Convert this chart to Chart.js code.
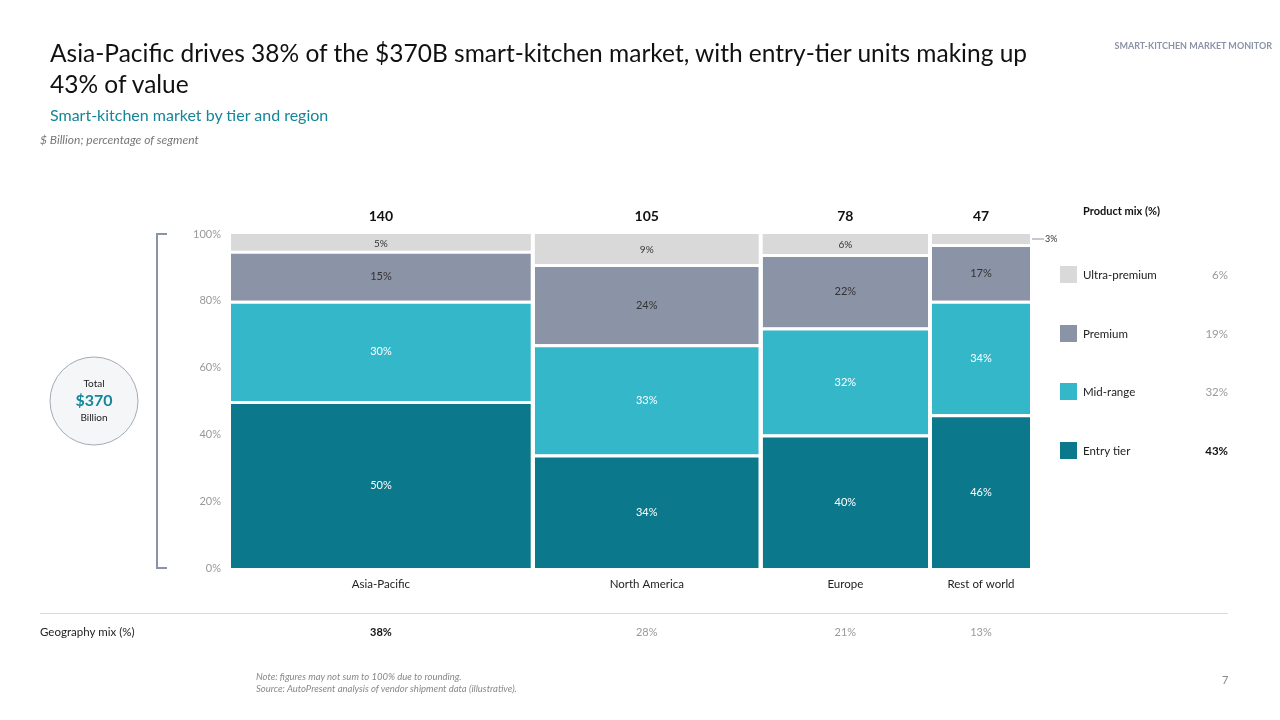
<!DOCTYPE html>
<html>
<head>
<meta charset="utf-8">
<script src="https://cdn.jsdelivr.net/npm/chart.js"></script>
<style>
  html, body { margin: 0; padding: 0; background: #fff; }
  body { width: 1280px; height: 720px; position: relative; overflow: hidden; font-family: 'Lato', 'Noto Sans', sans-serif; }
  #wrap { position: absolute; left: 0; top: 0; width: 1280px; height: 720px; }
  .t { position: absolute; white-space: nowrap; }
  #title { left: 50px; top: 37px; font-size: 24.5px; line-height: 31px; color: #111; }
  #sub { left: 50px; top: 105px; font-size: 16px; color: #14869a; }
  #unit { left: 40px; top: 132px; font-size: 12px; font-style: italic; color: #777; }
  #brand { right: 8px; top: 40px; font-size: 9px; font-weight: bold; color: #8b93a6; }
  #note { left: 256px; top: 671px; font-size: 9.5px; font-style: italic; color: #888; line-height: 12px; }
  #page { left: 1222px; top: 673px; font-size: 11px; color: #888; }
</style>
</head>
<body>
<div id="wrap"><canvas id="c" width="1280" height="720"></canvas></div>
<div class="t" id="title">Asia-Pacific drives 38% of the $370B smart-kitchen market, with entry-tier units making up<br>43% of value</div>
<div class="t" id="sub">Smart-kitchen market by tier and region</div>
<div class="t" id="unit">$ Billion; percentage of segment</div>
<div class="t" id="brand">SMART-KITCHEN MARKET MONITOR</div>
<div class="t" id="note">Note: figures may not sum to 100% due to rounding.<br>Source: AutoPresent analysis of vendor shipment data (illustrative).</div>
<div class="t" id="page">7</div>
<script>
// ---- data ----
const regions = ['Asia-Pacific', 'North America', 'Europe', 'Rest of world'];
const regionTotals = [140, 105, 78, 47];           // $B, drives bar widths
const geoMix = [38, 28, 21, 13];                    // % of total
const entryTier = [50, 34, 40, 46];
const midRange = [30, 33, 32, 34];
const premium = [15, 24, 22, 17];
const ultraPremium = [5, 9, 6, 3];
const tiers = ['Entry tier', 'Mid-range', 'Premium', 'Ultra-premium'];
const productMix = [43, 32, 19, 6];                 // same order as tiers
const totalMarket = 370;

const colors = ['#0b798b', '#35b7ca', '#8b93a6', '#d9d9d9'];
const labelColors = ['#fff', '#fff', '#333', '#333'];
const FONT = "'Lato', 'Noto Sans', sans-serif";

// bar spans along the $B axis
const starts = [], ends = [];
regionTotals.reduce((acc, v) => { starts.push(acc); ends.push(acc + v); return acc + v; }, 0);
const centers = starts.map((s, i) => (s + ends[i]) / 2);

const series = [entryTier, midRange, premium, ultraPremium];

// Marimekko: stretch each bar to its $B span on the linear x scale
const mekkoWidth = {
  id: 'mekkoWidth',
  afterDatasetsUpdate(chart) {
    const xs = chart.scales.x;
    chart.data.datasets.forEach((ds, d) => {
      chart.getDatasetMeta(d).data.forEach((el, i) => {
        const x0 = xs.getPixelForValue(starts[i]);
        const x1 = xs.getPixelForValue(ends[i]);
        el.x = (x0 + x1) / 2;
        el.width = x1 - x0 - 4;
      });
    });
  }
};

// annotations tied to the chart scales
const annot = {
  id: 'annot',
  afterDatasetsDraw(chart) {
    const { ctx, chartArea: a, scales: { x, y } } = chart;
    ctx.save();
    ctx.textBaseline = 'middle';

    // segment labels
    chart.data.datasets.forEach((ds, d) => {
      chart.getDatasetMeta(d).data.forEach((el, i) => {
        const v = series[d][i];
        ctx.font = (v >= 10 ? '11px ' : '10px ') + FONT;
        if (d === 3 && v < 4) {
          // tiny slice: label outside with leader
          const yy = (el.y + el.base) / 2;
          ctx.strokeStyle = '#8b93a6'; ctx.lineWidth = 1;
          ctx.beginPath(); ctx.moveTo(el.x + el.width / 2 + 2, yy); ctx.lineTo(el.x + el.width / 2 + 14, yy); ctx.stroke();
          ctx.fillStyle = '#333'; ctx.textAlign = 'left';
          ctx.font = '9px ' + FONT;
          ctx.fillText(v + '%', el.x + el.width / 2 + 15, yy);
          return;
        }
        ctx.fillStyle = labelColors[d]; ctx.textAlign = 'center';
        ctx.fillText(v + '%', el.x, (el.y + el.base) / 2 + 1);
      });
    });

    // totals above, region names below, geo mix row
    ctx.textAlign = 'center';
    centers.forEach((c, i) => {
      const px = x.getPixelForValue(c);
      ctx.fillStyle = '#111'; ctx.font = 'bold 14px ' + FONT;
      ctx.fillText(regionTotals[i], px, a.top - 18);
      ctx.font = '11.5px ' + FONT; ctx.fillStyle = '#222';
      ctx.fillText(regions[i], px, a.bottom + 16);
      ctx.font = (i === 0 ? 'bold ' : '') + '11px ' + FONT;
      ctx.fillStyle = i === 0 ? '#111' : '#999';
      ctx.fillText(geoMix[i] + '%', px, 632);
    });

    // separator + row label
    ctx.strokeStyle = '#dcdcdc'; ctx.lineWidth = 1;
    ctx.beginPath(); ctx.moveTo(40, 613.5); ctx.lineTo(1228, 613.5); ctx.stroke();
    ctx.textAlign = 'left'; ctx.fillStyle = '#222'; ctx.font = '11.5px ' + FONT;
    ctx.fillText('Geography mix (%)', 40, 632);

    // bracket
    const yTop = y.getPixelForValue(100), yBot = y.getPixelForValue(0);
    ctx.strokeStyle = '#8b93a6'; ctx.lineWidth = 2;
    ctx.beginPath();
    ctx.moveTo(167, yTop); ctx.lineTo(157, yTop); ctx.lineTo(157, yBot); ctx.lineTo(167, yBot);
    ctx.stroke();

    // total circle
    ctx.beginPath(); ctx.arc(94, 401, 44, 0, Math.PI * 2);
    ctx.fillStyle = '#f4f6f8'; ctx.fill();
    ctx.strokeStyle = '#a3a9b6'; ctx.lineWidth = 1; ctx.stroke();
    ctx.textAlign = 'center';
    ctx.fillStyle = '#222'; ctx.font = '10px ' + FONT;
    ctx.fillText('Total', 94, 384);
    ctx.fillStyle = '#14869a'; ctx.font = 'bold 16px ' + FONT;
    ctx.fillText('$' + totalMarket, 94, 401);
    ctx.fillStyle = '#222'; ctx.font = '10px ' + FONT;
    ctx.fillText('Billion', 94, 418);

    // legend
    ctx.textAlign = 'left'; ctx.fillStyle = '#111'; ctx.font = 'bold 11px ' + FONT;
    ctx.fillText('Product mix (%)', 1083, 211);
    const legY = [451, 392, 334, 275];
    tiers.forEach((t, k) => {
      ctx.fillStyle = colors[k];
      ctx.fillRect(1060, legY[k] - 9, 17, 17);
      ctx.textAlign = 'left'; ctx.fillStyle = '#222'; ctx.font = '11.5px ' + FONT;
      ctx.fillText(t, 1083, legY[k]);
      ctx.textAlign = 'right';
      ctx.fillStyle = k === 0 ? '#111' : '#999';
      ctx.font = (k === 0 ? 'bold ' : '') + '11.5px ' + FONT;
      ctx.fillText(productMix[k] + '%', 1228, legY[k]);
    });
    ctx.restore();
  }
};

new Chart(document.getElementById('c'), {
  type: 'bar',
  data: {
    datasets: tiers.map((t, d) => ({
      label: t,
      data: centers.map((c, i) => ({ x: c, y: series[d][i] })),
      backgroundColor: colors[d],
      borderColor: '#fff',
      // white gap on top of each segment except the topmost tier
      borderWidth: { top: d === tiers.length - 1 ? 0 : 3, bottom: 0, left: 0, right: 0 },
      borderSkipped: false
    }))
  },
  options: {
    responsive: false,
    animation: false,
    events: [],
    layout: { padding: { left: 184, right: 248, top: 234, bottom: 152 } },
    plugins: { legend: { display: false }, tooltip: { enabled: false } },
    scales: {
      x: { type: 'linear', min: 0, max: totalMarket, offset: false, display: false },
      y: {
        stacked: true, min: 0, max: 100,
        grid: { display: false, drawTicks: false }, border: { display: false },
        afterFit: (s) => { s.width = 45; },
        ticks: { stepSize: 20, padding: 8, color: '#999', font: { family: FONT, size: 11 }, callback: (v) => v + '%' }
      }
    }
  },
  plugins: [mekkoWidth, annot]
});
</script>
</body>
</html>
